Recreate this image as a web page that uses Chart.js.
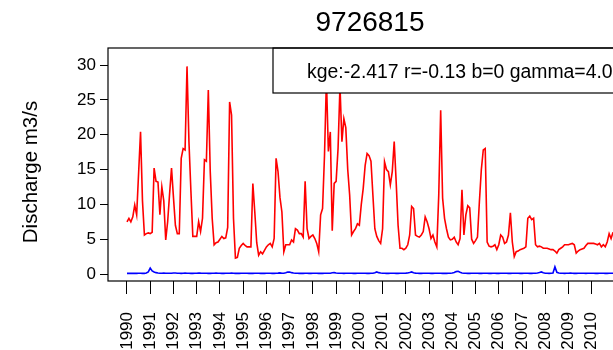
<!DOCTYPE html>
<html>
<head>
<meta charset="utf-8">
<script src="https://cdn.jsdelivr.net/npm/chart.js@4.4.1/dist/chart.umd.min.js"></script>
<style>
  html, body { margin: 0; padding: 0; overflow: hidden; background: #fff; }
  #wrap { width: 640px; height: 350px; }
</style>
</head>
<body>
<div id="wrap"><canvas id="flowChart"></canvas></div>
<script>
// station + fit stats shown on the plot
const stationId = "9726815";
const statsText = "kge:-2.417 r=-0.13 b=0 gamma=4.0";
const yTitle = "Discharge m3/s";

// monthly series, Jan 1990 .. Dec 2010
const startYear = 1990;
const yearTicks = [1990, 1991, 1992, 1993, 1994, 1995, 1996, 1997, 1998, 1999, 2000,
                   2001, 2002, 2003, 2004, 2005, 2006, 2007, 2008, 2009, 2010];
const yTicks = [0, 5, 10, 15, 20, 25, 30];

// observed discharge (red)
const observed = [
  7.5, 8.0, 7.5, 8.2, 9.9, 8.5, 14.5, 20.4, 10.5, 5.6, 5.8, 5.9,     // 1990
  5.8, 6.0, 15.2, 13.3, 13.2, 8.5, 12.5, 10.5, 4.9, 7.5, 11.5, 15.2, // 1991
  11.0, 7.0, 5.8, 5.8, 16.6, 18.0, 17.8, 29.8, 19.0, 12.0, 5.4, 5.4, // 1992
  5.4, 7.5, 6.1, 8.0, 16.4, 16.2, 26.4, 14.7, 8.0, 4.2, 4.5, 4.6,    // 1993
  5.0, 5.4, 5.1, 5.2, 6.7, 24.7, 22.8, 8.0, 2.3, 2.4, 3.7, 4.1,      // 1994
  4.4, 4.1, 3.9, 3.9, 3.9, 13.0, 8.9, 4.5, 2.7, 3.2, 2.9, 3.4,       // 1995
  3.9, 4.2, 4.4, 3.9, 5.1, 16.6, 14.7, 11.0, 8.9, 3.2, 4.2, 4.2,     // 1996
  4.2, 4.9, 4.6, 6.5, 6.3, 5.8, 5.8, 5.3, 13.3, 6.5, 5.1, 5.4,       // 1997
  5.6, 5.1, 4.4, 3.2, 8.5, 9.4, 17.0, 28.0, 17.6, 20.4, 6.2, 13.0,   // 1998
  13.3, 18.0, 27.0, 19.0, 22.3, 21.0, 15.0, 11.3, 5.6, 6.1, 6.5, 7.2, // 1999
  7.0, 10.0, 12.3, 15.6, 17.3, 17.0, 16.2, 11.3, 6.5, 5.4, 4.8, 4.4, // 2000
  6.5, 16.1, 15.0, 14.7, 12.8, 14.7, 19.0, 13.3, 7.0, 3.7, 3.7, 3.5, // 2001
  3.7, 4.2, 5.6, 9.7, 9.4, 5.6, 5.4, 5.3, 5.6, 6.1, 8.2, 7.5,        // 2002
  6.5, 5.1, 5.6, 4.6, 3.9, 11.3, 23.5, 10.9, 8.0, 6.5, 5.3, 4.9,     // 2003
  5.0, 5.3, 4.6, 4.2, 5.1, 12.1, 5.6, 8.5, 9.8, 9.5, 5.0, 4.4,       // 2004
  4.8, 5.3, 10.4, 15.0, 17.8, 18.0, 4.6, 4.0, 3.9, 4.0, 4.2, 3.5,    // 2005
  4.2, 5.6, 5.3, 4.4, 4.6, 5.6, 8.8, 4.6, 2.5, 3.2, 3.3, 3.5,        // 2006
  3.6, 3.7, 3.9, 8.0, 8.3, 7.8, 8.0, 4.2, 3.9, 4.0, 3.9, 3.7,        // 2007
  3.7, 3.7, 3.6, 3.5, 3.5, 3.3, 3.0, 3.5, 3.7, 3.9, 4.2, 4.2,        // 2008
  4.2, 4.3, 4.4, 4.2, 3.0, 3.3, 3.5, 3.6, 3.7, 4.1, 4.4, 4.4,        // 2009
  4.4, 4.4, 4.3, 4.2, 4.4, 3.9, 4.2, 3.9, 4.6, 5.8, 5.1, 6.0         // 2010
];

// simulated discharge (blue)
const simulated = [
  0.10, 0.10, 0.11, 0.10, 0.10, 0.10, 0.12, 0.11, 0.10, 0.10, 0.15, 0.30, // 1990
  0.85, 0.45, 0.30, 0.20, 0.15, 0.12, 0.12, 0.13, 0.12, 0.11, 0.12, 0.12, // 1991
  0.15, 0.14, 0.12, 0.11, 0.10, 0.12, 0.14, 0.12, 0.11, 0.10, 0.10, 0.12, // 1992
  0.12, 0.15, 0.13, 0.12, 0.12, 0.11, 0.10, 0.10, 0.11, 0.12, 0.13, 0.12, // 1993
  0.11, 0.10, 0.10, 0.11, 0.12, 0.12, 0.13, 0.11, 0.10, 0.10, 0.10, 0.11, // 1994
  0.12, 0.12, 0.11, 0.10, 0.10, 0.10, 0.11, 0.12, 0.11, 0.10, 0.10, 0.10, // 1995
  0.11, 0.12, 0.11, 0.10, 0.10, 0.11, 0.13, 0.16, 0.12, 0.11, 0.18, 0.28, // 1996
  0.30, 0.20, 0.14, 0.12, 0.11, 0.10, 0.10, 0.10, 0.11, 0.11, 0.10, 0.10, // 1997
  0.11, 0.12, 0.11, 0.10, 0.10, 0.10, 0.11, 0.12, 0.12, 0.11, 0.18, 0.20, // 1998
  0.15, 0.12, 0.12, 0.11, 0.10, 0.11, 0.12, 0.12, 0.11, 0.10, 0.10, 0.11, // 1999
  0.11, 0.12, 0.12, 0.11, 0.10, 0.10, 0.11, 0.12, 0.18, 0.30, 0.20, 0.14, // 2000
  0.12, 0.11, 0.10, 0.10, 0.11, 0.12, 0.11, 0.10, 0.10, 0.11, 0.12, 0.12, // 2001
  0.13, 0.15, 0.22, 0.30, 0.18, 0.13, 0.11, 0.10, 0.10, 0.11, 0.12, 0.12, // 2002
  0.11, 0.10, 0.10, 0.11, 0.12, 0.12, 0.11, 0.10, 0.10, 0.10, 0.11, 0.12, // 2003
  0.14, 0.22, 0.35, 0.40, 0.25, 0.15, 0.12, 0.11, 0.10, 0.10, 0.11, 0.12, // 2004
  0.12, 0.11, 0.10, 0.10, 0.11, 0.12, 0.11, 0.10, 0.10, 0.11, 0.11, 0.10, // 2005
  0.10, 0.11, 0.12, 0.12, 0.11, 0.10, 0.10, 0.11, 0.12, 0.12, 0.11, 0.10, // 2006
  0.10, 0.11, 0.12, 0.11, 0.10, 0.10, 0.11, 0.12, 0.15, 0.22, 0.30, 0.18, // 2007
  0.12, 0.11, 0.10, 0.11, 0.15, 1.05, 0.25, 0.14, 0.12, 0.11, 0.10, 0.11, // 2008
  0.12, 0.13, 0.11, 0.10, 0.10, 0.11, 0.12, 0.12, 0.11, 0.10, 0.11, 0.12, // 2009
  0.12, 0.11, 0.10, 0.10, 0.11, 0.12, 0.11, 0.10, 0.10, 0.11, 0.12, 0.12  // 2010
];

const FONT = "'Liberation Sans', Arial, sans-serif";

// R style box around the plot region, stats legend box and y label
const plotBox = {
  id: "plotBox",
  afterDatasetsDraw(chart) {
    const { ctx, chartArea: a } = chart;
    ctx.save();
    // legend box (white fill hides the peaks behind it)
    const bx = 273, bh = 45;
    ctx.fillStyle = "#fff";
    ctx.fillRect(bx, a.top, a.right - bx, bh);
    ctx.strokeStyle = "#000";
    ctx.lineWidth = 1.2;
    ctx.strokeRect(bx, a.top, a.right - bx, bh);
    ctx.fillStyle = "#000";
    ctx.font = "19.4px " + FONT;
    ctx.textBaseline = "alphabetic";
    ctx.textAlign = "left";
    ctx.fillText(statsText, 307, a.top + 30);
    // frame
    ctx.strokeRect(a.left, a.top, a.right - a.left, a.bottom - a.top);
    // y axis label, rotated
    ctx.translate(31, 172);
    ctx.rotate(-Math.PI / 2);
    ctx.textAlign = "center";
    ctx.textBaseline = "middle";
    ctx.font = "20.5px " + FONT;
    ctx.fillText(yTitle, 0, 0);
    ctx.restore();
  }
};

new Chart(document.getElementById("flowChart"), {
  type: "line",
  data: {
    datasets: [
      {
        label: "observed",
        data: observed.map((v, i) => ({ x: i, y: v })),
        borderColor: "#FF0000",
        borderWidth: 1.6,
        pointRadius: 0,
        tension: 0,
      },
      {
        label: "simulated",
        data: simulated.map((v, i) => ({ x: i, y: v })),
        borderColor: "#0000FF",
        borderWidth: 1.6,
        pointRadius: 0,
        tension: 0,
      },
    ],
  },
  options: {
    responsive: true,
    maintainAspectRatio: false,
    animation: false,
    events: [],
    layout: { padding: { left: 0, right: 8, top: 0, bottom: 0 } },
    plugins: {
      legend: { display: false },
      tooltip: { enabled: false },
      title: {
        display: true,
        text: stationId,
        fullSize: false,
        color: "#000",
        font: { family: FONT, size: 28, weight: "normal" },
        padding: { top: 6, bottom: 8.4 },
      },
    },
    scales: {
      x: {
        type: "linear",
        min: -9.806,
        max: 260.806,
        afterBuildTicks: (s) => { s.ticks = yearTicks.map((y) => ({ value: (y - startYear) * 12 })); },
        afterFit: (s) => { s.height = 69; },
        grid: { drawOnChartArea: false, drawTicks: true, tickLength: 13, color: "#000", lineWidth: 1 },
        border: { display: false },
        ticks: {
          autoSkip: false,
          minRotation: 90,
          maxRotation: 90,
          padding: 18,
          color: "#000",
          font: { family: FONT, size: 17 },
          callback: (v) => String(startYear + v / 12),
        },
      },
      y: {
        min: -1.0,
        max: 32.44,
        afterBuildTicks: (s) => { s.ticks = yTicks.map((v) => ({ value: v })); },
        afterFit: (s) => { s.width = 108; },
        grid: { drawOnChartArea: false, drawTicks: true, tickLength: 8, color: "#000", lineWidth: 1 },
        border: { display: false },
        ticks: {
          padding: 4,
          color: "#000",
          font: { family: FONT, size: 17 },
        },
      },
    },
  },
  plugins: [plotBox],
});
</script>
</body>
</html>
